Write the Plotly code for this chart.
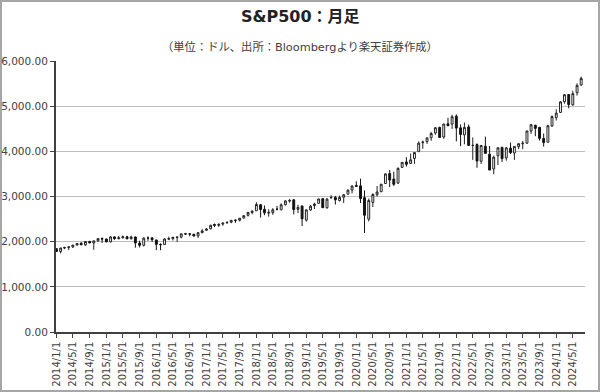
import pandas as pd
import plotly.graph_objects as go

dates = pd.date_range("2014-01-01", "2024-07-01", freq="MS").strftime("%Y-%m-%d").tolist()

opens = [
    1845.9, 1782.7, 1857.7, 1874.0, 1884.4, 1923.9, 1962.3, 1929.8, 2004.1, 1971.4, 2018.2, 2065.8,
    2058.9, 1996.7, 2105.2, 2067.6, 2087.4, 2108.6, 2067.0, 2104.5, 1970.1, 1919.7, 2080.8, 2082.9,
    2038.2, 1936.9, 1937.1, 2056.6, 2067.2, 2093.9, 2099.3, 2173.2, 2171.3, 2164.3, 2128.7, 2200.2,
    2251.6, 2285.6, 2380.1, 2362.3, 2388.5, 2415.6, 2431.4, 2477.1, 2474.4, 2521.2, 2583.2, 2645.1,
    2683.7, 2816.5, 2715.2, 2633.5, 2643.0, 2718.7, 2705.0, 2821.2, 2897.0, 2926.3, 2717.6, 2790.5,
    2477.0, 2702.3, 2798.2, 2848.6, 2952.3, 2751.5, 2971.4, 2980.3, 2909.0, 2983.7, 3050.7, 3143.9,
    3244.7, 3235.7, 2974.3, 2498.1, 2869.1, 3038.8, 3105.9, 3288.3, 3507.4, 3385.9, 3296.2, 3645.9,
    3764.6, 3731.2, 3842.5, 3992.8, 4192.0, 4216.5, 4300.7, 4406.9, 4528.8, 4317.2, 4610.6, 4602.8,
    4778.1, 4519.6, 4363.1, 4540.3, 4130.6, 4149.8, 3781.0, 4112.4, 3936.7, 3609.8, 3901.8, 4087.1,
    3853.3, 4070.1, 3963.3, 4102.2, 4166.8, 4181.2, 4450.5, 4578.8, 4530.6, 4284.5, 4201.3, 4559.4,
    4745.2, 4861.1, 5098.5, 5258.0, 5029.0, 5297.1, 5471.1,
]
highs = [
    1850.8, 1867.9, 1884.0, 1897.3, 1924.0, 1968.2, 1991.4, 2005.0, 2019.3, 2018.2, 2075.8, 2093.6,
    2064.4, 2119.6, 2117.5, 2125.9, 2134.7, 2129.9, 2132.8, 2112.7, 2020.9, 2094.3, 2116.5, 2104.3,
    2038.2, 1963.0, 2072.2, 2111.1, 2103.5, 2120.6, 2177.1, 2193.8, 2187.9, 2169.6, 2214.1, 2277.5,
    2301.0, 2371.5, 2401.0, 2398.2, 2418.7, 2453.8, 2484.0, 2490.9, 2519.4, 2583.0, 2657.7, 2695.0,
    2872.9, 2836.0, 2801.9, 2717.5, 2742.2, 2791.5, 2848.0, 2916.5, 2940.9, 2939.9, 2815.2, 2800.2,
    2709.0, 2813.5, 2860.3, 2949.5, 2954.1, 2964.2, 3028.0, 3013.6, 3022.0, 3050.1, 3154.3, 3247.9,
    3337.8, 3393.5, 3136.7, 2954.9, 3068.7, 3233.1, 3280.0, 3509.2, 3588.1, 3549.9, 3646.0, 3760.2,
    3870.9, 3950.4, 3983.9, 4218.8, 4238.0, 4302.4, 4430.0, 4537.4, 4545.9, 4608.1, 4743.8, 4808.9,
    4818.6, 4595.3, 4637.3, 4593.5, 4307.7, 4177.5, 4140.2, 4325.3, 4119.3, 3905.4, 4080.1, 4101.0,
    4094.2, 4195.4, 4110.8, 4170.1, 4231.1, 4458.5, 4607.1, 4584.6, 4541.3, 4393.6, 4587.6, 4793.3,
    4931.1, 5111.1, 5264.9, 5264.0, 5341.9, 5505.5, 5655.6,
]
lows = [
    1770.5, 1737.9, 1834.4, 1814.4, 1859.8, 1916.0, 1930.7, 1904.8, 1964.0, 1820.7, 2001.0, 1972.6,
    1988.1, 1980.9, 2039.7, 2048.4, 2067.9, 2056.3, 2044.0, 1867.0, 1871.9, 1893.7, 2019.4, 1993.3,
    1812.3, 1810.1, 1937.1, 2033.8, 2025.9, 1991.7, 2074.0, 2147.6, 2119.1, 2114.7, 2083.8, 2187.4,
    2245.1, 2271.7, 2322.3, 2329.0, 2352.7, 2405.7, 2407.7, 2417.4, 2446.6, 2520.4, 2557.4, 2605.5,
    2682.4, 2532.7, 2585.9, 2553.8, 2594.6, 2692.0, 2699.0, 2796.3, 2864.1, 2603.5, 2631.1, 2346.6,
    2444.0, 2681.8, 2722.3, 2848.6, 2750.5, 2728.8, 2952.2, 2822.1, 2891.9, 2855.9, 3050.7, 3070.3,
    3214.6, 2855.8, 2191.9, 2447.5, 2766.6, 2999.5, 3101.2, 3284.5, 3209.5, 3233.9, 3279.7, 3633.4,
    3662.7, 3725.6, 3723.3, 3992.8, 4056.9, 4164.4, 4233.1, 4367.7, 4305.9, 4278.9, 4560.0, 4495.1,
    4222.6, 4114.7, 4157.9, 4124.3, 3810.3, 3636.9, 3721.6, 3954.5, 3584.1, 3491.6, 3698.2, 3764.5,
    3794.3, 3943.1, 3808.9, 4049.4, 4048.3, 4166.0, 4385.1, 4335.3, 4238.6, 4103.8, 4197.7, 4546.5,
    4682.1, 4853.5, 5056.8, 4953.6, 5011.1, 5234.3, 5448.0,
]
closes = [
    1782.6, 1859.5, 1872.3, 1884.0, 1923.6, 1960.2, 1930.7, 2003.4, 1972.3, 2018.1, 2067.6, 2058.9,
    1995.0, 2104.5, 2067.9, 2085.5, 2107.4, 2063.1, 2103.8, 1972.2, 1920.0, 2079.4, 2080.4, 2043.9,
    1940.2, 1932.2, 2059.7, 2065.3, 2097.0, 2098.9, 2173.6, 2171.0, 2168.3, 2126.2, 2198.8, 2238.8,
    2278.9, 2363.6, 2362.7, 2384.2, 2411.8, 2423.4, 2470.3, 2471.7, 2519.4, 2575.3, 2647.6, 2673.6,
    2823.8, 2713.8, 2640.9, 2648.1, 2705.3, 2718.4, 2816.3, 2901.5, 2914.0, 2711.7, 2760.2, 2506.9,
    2704.1, 2784.5, 2834.4, 2945.8, 2752.1, 2941.8, 2980.4, 2926.5, 2976.7, 3037.6, 3141.0, 3230.8,
    3225.5, 2954.2, 2584.6, 2912.4, 3044.3, 3100.3, 3271.1, 3500.3, 3363.0, 3270.0, 3621.6, 3756.1,
    3714.2, 3811.2, 3972.9, 4181.2, 4204.1, 4297.5, 4395.3, 4522.7, 4307.5, 4605.4, 4567.0, 4766.2,
    4515.6, 4373.9, 4530.4, 4131.9, 4132.2, 3785.4, 4130.3, 3955.0, 3585.6, 3872.0, 4080.1, 3839.5,
    4076.6, 3970.2, 4109.3, 4169.5, 4179.8, 4450.4, 4589.0, 4507.7, 4288.1, 4193.8, 4567.8, 4769.8,
    4845.7, 5096.3, 5254.4, 5035.7, 5277.5, 5460.5, 5615.4,
]

title_text = "S&P500：月足"
subtitle_text = "（単位：ドル、出所：Bloombergより楽天証券作成）"

fig = go.Figure(
    go.Candlestick(
        x=dates, open=opens, high=highs, low=lows, close=closes,
        increasing=dict(line=dict(color="#222222", width=1), fillcolor="#ffffff"),
        decreasing=dict(line=dict(color="#111111", width=1), fillcolor="#111111"),
        whiskerwidth=0,
        showlegend=False,
    )
)

W, H = 600, 392
L, R, T, B = 56, 15, 61, 60
pw, ph = W - L - R, H - T - B

fig.update_layout(
    width=W, height=H,
    margin=dict(l=L, r=R, t=T, b=B, autoexpand=False),
    paper_bgcolor="white", plot_bgcolor="white",
    font=dict(family="DejaVu Sans, Verdana, Noto Sans CJK JP", color="#404040"),
    showlegend=False,
    annotations=[
        dict(text="<b>" + title_text + "</b>", xref="paper", yref="paper",
             x=(300 - L) / pw, y=(H - B - 17) / ph, xanchor="center", yanchor="middle",
             showarrow=False, font=dict(size=16, color="#222222",
                                        family="DejaVu Sans, Noto Sans CJK JP")),
        dict(text=subtitle_text, xref="paper", yref="paper",
             x=(300 - L) / pw, y=(H - B - 47) / ph, xanchor="center", yanchor="middle",
             showarrow=False, font=dict(size=11.3, color="#404040",
                                        family="DejaVu Sans, Noto Sans CJK JP")),
    ],
    shapes=[
        dict(type="rect", xref="paper", yref="paper",
             x0=(1 - L) / pw, x1=(W - 1 - L) / pw,
             y0=(H - B - (H - 1)) / ph, y1=(H - B - 1) / ph,
             line=dict(color="#a6a6a6", width=2), fillcolor="rgba(0,0,0,0)", layer="below"),
    ],
)

fig.update_xaxes(
    type="date",
    range=["2013-12-29", "2024-07-29"],
    tick0="2014-01-01", dtick="M4",
    tickformat="%Y/%-m/%-d",
    tickangle=-90,
    tickfont=dict(size=10, color="#404040"),
    ticks="outside", ticklen=4, tickcolor="#404040",
    showline=True, linecolor="#404040", linewidth=1.5,
    showgrid=False, zeroline=False, automargin=False,
    rangeslider=dict(visible=False),
)
fig.update_yaxes(
    range=[0, 6000], dtick=1000, tickformat=",.2f",
    tickfont=dict(size=10.5, color="#404040"),
    ticks="outside", ticklen=4, tickcolor="#404040",
    showline=True, linecolor="#404040", linewidth=2,
    showgrid=True, gridcolor="#bdbdbd", gridwidth=1,
    zeroline=False, automargin=False,
)

fig.write_html("out.html", config={"displayModeBar": False},
               post_script="document.body.style.margin='0px';document.body.style.overflow='hidden';")
